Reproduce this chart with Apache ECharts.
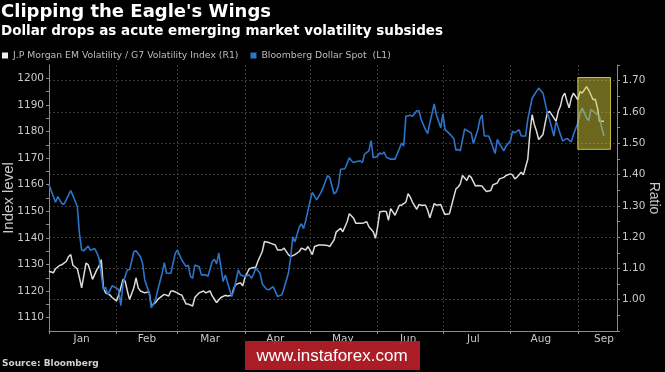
<!DOCTYPE html>
<html><head><meta charset="utf-8">
<script src="https://cdn.jsdelivr.net/npm/echarts@6/dist/echarts.min.js"></script>
<style>html,body{margin:0;padding:0;background:#000;}#c{width:665px;height:372px;}</style>
</head><body><div id="c"></div>
<script>
// ---- data ----
const titleText = "Clipping the Eagle's Wings";
const subtitleText = "Dollar drops as acute emerging market volatility subsides";
const sourceText = "Source: Bloomberg";
const whiteName = "J.P Morgan EM Volatility / G7 Volatility Index (R1)";
const blueName = "Bloomberg Dollar Spot  (L1)";
const monthNames = ["Jan","Feb","Mar","Apr","May","Jun","Jul","Aug","Sep","Oct","Nov","Dec"];
const axisStartDate = "2018-01-01";
const axisDayCount = 262;
const monthLabelDates = ["2018-01-16","2018-02-15","2018-03-16","2018-04-15","2018-05-16","2018-06-15","2018-07-15","2018-08-15","2018-09-13"];
const yearLabel = "2018";
// day offsets from Jan 1 2018
const blueDays = [0,3,4,6,7,10,11,13,14,15,16,18,19,21,22,23,25,26,27,29,31,32,33,34,36,37,39,40,42,43,44,46,47,49,50,52,53,54,56,58,59,61,63,64,65,66,67,69,70,72,73,75,76,77,78,80,81,83,84,85,87,88,90,92,93,94,95,97,98,100,101,103,104,105,107,108,110,111,112,113,115,116,117,118,120,121,123,125,126,128,129,131,132,133,134,136,138,139,140,141,143,144,145,147,148,149,151,152,153,154,155,157,159,161,162,163,164,166,167,169,170,171,173,174,175,177,178,180,181,182,184,186,187,188,189,191,192,194,195,197,198,199,200,202,203,205,206,207,209,210,212,213,214,216,217,219,220,222,223,225,227,229,230,231,232,233,235,236,238,240,241,243,244,245,247,248,249,251,253,254,255];
const blueValues = [1160,1153.4,1155.5,1152.8,1152.8,1157.8,1155.9,1151.8,1141.6,1135.4,1135.2,1136.9,1135.4,1136,1134.4,1132.3,1120.5,1121.5,1118.6,1122,1121.1,1120.5,1114.5,1123,1128,1128,1134.8,1135.2,1132.9,1130.4,1124.2,1119.3,1113.7,1116.8,1120.5,1126.7,1130.7,1126.7,1126.7,1134.2,1135.4,1131.7,1129.2,1129.8,1125.5,1124.8,1129.8,1129.2,1126.1,1126.1,1125.5,1131.1,1131.9,1130.2,1134.4,1123.6,1126.1,1120.5,1118,1120.5,1128,1126.1,1125.5,1126.1,1124.8,1126.3,1128.6,1126.7,1122.7,1120.7,1120.5,1121.7,1119.9,1118,1118.6,1121.1,1126.7,1132.3,1140.4,1138.5,1144.1,1145.3,1143.5,1146.6,1154,1157.1,1154.3,1157.1,1159,1163.4,1162.7,1156.5,1157.3,1159.6,1165.8,1166,1170.1,1169,1168.3,1168.6,1169,1168.3,1171.5,1172.7,1176.6,1170.1,1170.7,1171.9,1171.5,1172.3,1170.3,1169.6,1169.6,1173.5,1175.7,1174.5,1185.7,1186.1,1185.7,1187.8,1187.8,1184.5,1180.7,1179.2,1183.2,1190.4,1186.3,1181.4,1186.6,1180.7,1179.2,1177.4,1172.9,1173.3,1172.7,1181,1180.4,1179.5,1175.5,1180.5,1184.5,1186.3,1178.3,1178.3,1176.4,1171.7,1177,1175.4,1172.7,1174.5,1176.4,1180.1,1179.5,1180.7,1178.3,1178.3,1184.5,1192.5,1193.8,1196.3,1194.4,1187,1184.5,1181.4,1178.3,1183.9,1178.9,1176.4,1177.4,1176.1,1178.9,1183.2,1187,1188.8,1185.1,1184.1,1188.2,1187,1185.7,1181.4,1178.3];
const whiteDays = [0,2,3,5,6,8,9,10,11,13,14,15,17,18,19,20,22,23,24,25,26,28,29,31,32,33,34,35,36,37,39,40,41,42,44,46,47,49,50,52,53,55,56,57,59,60,61,63,64,66,67,69,71,72,74,75,77,79,81,82,84,85,86,88,89,90,92,93,95,96,98,99,101,102,104,105,107,108,110,111,113,115,116,118,119,121,122,124,126,128,129,131,132,134,135,137,138,140,141,143,144,146,147,149,150,151,152,154,155,156,157,159,160,161,162,164,165,166,167,169,170,171,173,174,175,177,178,180,181,182,184,185,187,188,189,190,192,193,194,196,197,199,200,201,203,204,206,207,209,210,212,213,214,215,217,218,220,221,222,223,224,225,227,228,229,230,232,233,234,235,236,237,238,239,240,241,243,244,245,247,248,250,251,252,253,255];
const whiteValues = [1.091,1.086,1.099,1.110,1.112,1.123,1.138,1.144,1.110,1.099,1.070,1.038,1.117,1.112,1.091,1.065,1.096,1.107,1.128,1.038,1.022,1.015,1.007,0.996,1.015,1.038,1.065,1.059,1.028,1.001,1.038,1.070,1.038,1.028,1.022,1.025,0.980,0.991,1.001,1.012,1.017,1.012,1.028,1.028,1.022,1.017,1.015,0.986,0.986,0.980,1.007,1.022,1.028,1.022,1.028,1.012,0.991,1.007,1.014,1.012,1.014,1.038,1.049,1.054,1.044,1.070,1.099,1.101,1.104,1.123,1.154,1.186,1.183,1.180,1.175,1.159,1.159,1.165,1.144,1.138,1.144,1.154,1.165,1.159,1.170,1.144,1.170,1.175,1.175,1.173,1.170,1.191,1.217,1.228,1.217,1.249,1.275,1.260,1.244,1.244,1.244,1.249,1.233,1.217,1.196,1.233,1.281,1.283,1.281,1.254,1.291,1.270,1.286,1.302,1.302,1.312,1.339,1.328,1.312,1.289,1.304,1.302,1.302,1.286,1.262,1.307,1.302,1.304,1.286,1.272,1.275,1.302,1.354,1.360,1.370,1.397,1.381,1.397,1.391,1.363,1.365,1.363,1.354,1.346,1.349,1.367,1.373,1.386,1.391,1.397,1.402,1.399,1.386,1.391,1.407,1.399,1.449,1.534,1.591,1.560,1.539,1.512,1.528,1.565,1.597,1.602,1.581,1.570,1.602,1.618,1.649,1.660,1.634,1.613,1.644,1.660,1.639,1.665,1.660,1.681,1.670,1.639,1.641,1.613,1.570,1.570];
const highlightDays = [243, 258];
const highlightLevels = [1173.3, 1200.3];
const leftRange = [1105, 1205];
const rightRange = [0.90, 1.75];

// ---- build ----
const categories = [];
{
  const s = new Date(axisStartDate + "T00:00:00Z");
  for (let i = 0; i < axisDayCount; i++) {
    const d = new Date(s.getTime() + i * 86400000);
    categories.push(d.toISOString().slice(0, 10));
  }
}
const zip = (a, b) => a.map((v, i) => [v, b[i]]);
const FONT = '"Liberation Sans", Arial, sans-serif';
const HEAD = '"DejaVu Sans", "Liberation Sans", sans-serif';
const AXF = '"DejaVu Sans", sans-serif';
const isMonthStart = (i, v) => String(v).slice(8) === "01";

const chart = echarts.init(document.getElementById('c'));
chart.setOption({
  backgroundColor: '#000',
  animation: false,
  textStyle: { fontFamily: FONT },
  title: [
    { text: titleText, left: 1, top: 3, padding: 0, textStyle: { color: '#fff', fontSize: 18, fontWeight: 'bold', fontFamily: HEAD } },
    { text: subtitleText, left: 1, top: 24, padding: 0, textStyle: { color: '#fff', fontSize: 13.5, fontWeight: 'bold', fontFamily: HEAD } },
    { text: sourceText, left: 2, top: 359, padding: 0, textStyle: { color: '#d0d0d0', fontSize: 9, fontWeight: 'bold', fontFamily: AXF } }
  ],
  legend: {
    left: 2, top: 51, padding: 0, itemGap: 12, itemWidth: 6, itemHeight: 6, icon: 'rect',
    textStyle: { color: '#bdbdbd', fontSize: 9.3, fontFamily: AXF },
    data: [{ name: whiteName, itemStyle: { color: '#eeeeee' } }, { name: blueName, itemStyle: { color: '#2b74c9' } }]
  },
  grid: { left: 49, right: 48, top: 65, bottom: 41, containLabel: false, outerBoundsMode: 'none' },
  xAxis: {
    type: 'category', data: categories, boundaryGap: false,
    name: yearLabel, nameLocation: 'middle', nameGap: 20, nameMoveOverlap: false,
    nameTextStyle: { color: '#c8c8c8', fontSize: 10, fontFamily: AXF },
    axisLine: { lineStyle: { color: '#8a8a8a' } },
    axisTick: { show: true, interval: isMonthStart, length: 3, lineStyle: { color: '#8a8a8a' } },
    axisLabel: { interval: (i, v) => monthLabelDates.includes(v), color: '#c8c8c8', fontSize: 10.5, fontFamily: AXF, margin: 3,
      formatter: v => monthNames[parseInt(v.slice(5, 7), 10) - 1] },
    splitLine: { show: true, interval: isMonthStart, lineStyle: { color: '#3a3a3a', type: [2, 2] } }
  },
  yAxis: [
    {
      type: 'value', position: 'left', min: leftRange[0], max: leftRange[1], interval: 5,
      name: 'Index level', nameLocation: 'middle', nameGap: 33, nameRotate: 90, nameMoveOverlap: false,
      nameTextStyle: { color: '#c8c8c8', fontSize: 15, fontFamily: FONT },
      axisLine: { show: true, lineStyle: { color: '#8a8a8a' } },
      axisTick: { show: true, length: 3, lineStyle: { color: '#8a8a8a' } },
      axisLabel: { color: '#c8c8c8', fontSize: 10.5, fontFamily: AXF, margin: 5, showMinLabel: false, showMaxLabel: false,
        formatter: v => (Math.round(v) % 10 === 0 ? String(Math.round(v)) : '') },
      splitLine: { show: false }
    },
    {
      type: 'value', position: 'right', min: rightRange[0], max: rightRange[1], interval: 0.1,
      name: 'Ratio', nameLocation: 'middle', nameGap: 30, nameRotate: -90, nameMoveOverlap: false,
      nameTextStyle: { color: '#c8c8c8', fontSize: 14, fontFamily: FONT },
      axisLine: { show: true, lineStyle: { color: '#8a8a8a' } },
      axisTick: { show: true, length: 3, lineStyle: { color: '#8a8a8a' } },
      minorTick: { show: true, splitNumber: 2, length: 3, lineStyle: { color: '#8a8a8a' } },
      axisLabel: { color: '#c8c8c8', fontSize: 10.5, fontFamily: AXF, margin: 5, showMinLabel: false, showMaxLabel: false,
        formatter: v => v.toFixed(2) },
      splitLine: { show: true, showMinLine: false, showMaxLine: false, lineStyle: { color: '#3a3a3a', type: [2, 2] } }
    }
  ],
  series: [
    { name: whiteName, type: 'line', yAxisIndex: 1, data: zip(whiteDays, whiteValues), showSymbol: false,
      lineStyle: { color: '#dcdcdc', width: 1.5 }, itemStyle: { color: '#eeeeee' }, z: 2 },
    { name: blueName, type: 'line', yAxisIndex: 0, data: zip(blueDays, blueValues), showSymbol: false,
      lineStyle: { color: '#2b74c9', width: 1.6 }, itemStyle: { color: '#2b74c9' }, z: 3 },
    { type: 'custom', yAxisIndex: 0, z: 10, silent: true,
      data: [[highlightDays[0], highlightLevels[1], highlightDays[1], highlightLevels[0]]],
      encode: { x: [0, 2], y: [1, 3] },
      renderItem: (params, api) => {
        const p0 = api.coord([api.value(0), api.value(1)]);
        const p1 = api.coord([api.value(2), api.value(3)]);
        return { type: 'rect', shape: { x: p0[0], y: p0[1], width: p1[0] - p0[0], height: p1[1] - p0[1] },
          style: { fill: 'rgba(215,205,60,0.5)', stroke: 'rgba(225,215,80,0.85)', lineWidth: 1 } };
      }
    }
  ],
  graphic: [
    { type: 'rect', z: 100, shape: { x: 245, y: 341, width: 175, height: 29 }, style: { fill: 'rgba(190,32,42,0.9)' } },
    { type: 'text', z: 101, x: 332, y: 356, style: { text: 'www.instaforex.com', fill: '#fff', font: '17px "Liberation Sans", Arial, sans-serif', align: 'center', verticalAlign: 'middle' } }
  ]
});
</script></body></html>
